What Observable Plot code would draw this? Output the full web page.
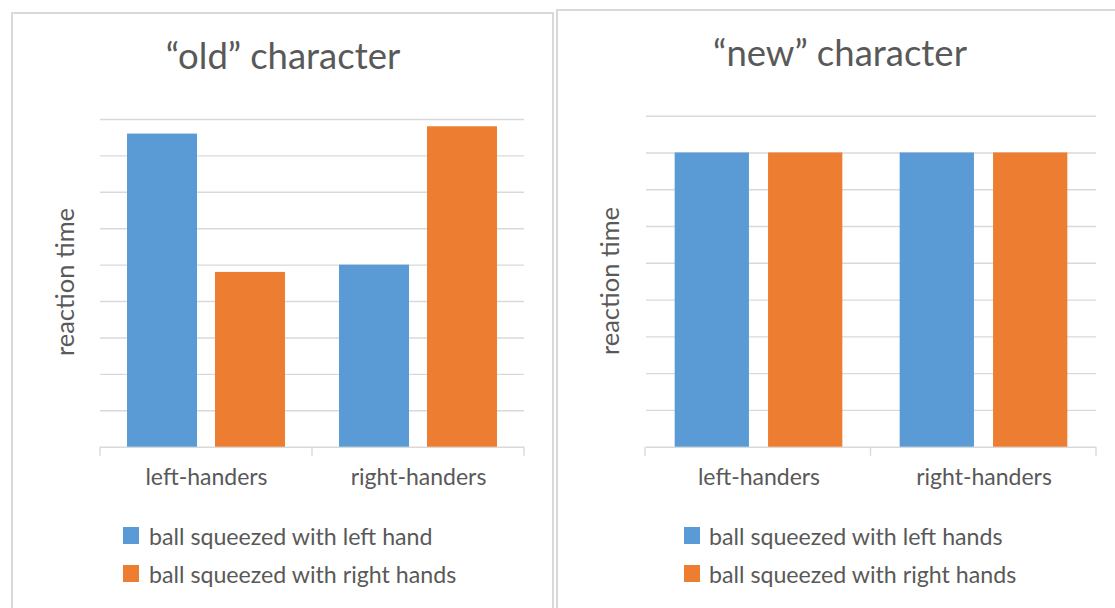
<!DOCTYPE html>
<html>
<head>
<meta charset="utf-8">
<script src="https://cdn.jsdelivr.net/npm/d3@7"></script>
<script src="https://cdn.jsdelivr.net/npm/@observablehq/plot@0.6"></script>
<style>
  html, body { margin: 0; padding: 0; background: #fff; }
  body { width: 1115px; height: 608px; overflow: hidden; position: relative;
         font-family: Lato, "Open Sans", sans-serif; color: #595959; }
  .panel { position: absolute; border: 2px solid #d9d9d9; box-sizing: border-box; background: #fff; }
  .abs { position: absolute; white-space: nowrap; line-height: 1; }
  .title { font-size: 36.5px; text-align: center; }
  .ylabel { font-size: 25.5px; transform: translate(-50%, -50%) rotate(-90deg); }
  .leg { font-size: 23.2px; }
  .sw { position: absolute; width: 16px; height: 17px; }
</style>
</head>
<body>
<div class="panel" style="left:11px; top:12px; width:543px; height:640px;"></div>
<div class="panel" style="left:556px; top:9px; width:580px; height:640px;"></div>
<script>
// ---- data ----
const categories = ["left-handers", "right-handers"];
const hands = ["left", "right"];
const handColors = ["#5B9BD5", "#ED7D31"];
const yTickValues = [0, 1, 2, 3, 4, 5, 6, 7, 8, 9];

const oldTitle = "\u201Cold\u201D character";
const oldLeftHand = [8.6, 5.0];
const oldRightHand = [4.8, 8.8];
const oldLegend = ["ball squeezed with left hand", "ball squeezed with right hands"];

const newTitle = "\u201Cnew\u201D character";
const newLeftHand = [8.0, 8.0];
const newRightHand = [8.0, 8.0];
const newLegend = ["ball squeezed with left hands", "ball squeezed with right hands"];

const yLabel = "reaction time";

// ---- helpers ----
function rows(leftVals, rightVals) {
  return categories.flatMap((c, i) => [
    {category: c, hand: "left", value: leftVals[i]},
    {category: c, hand: "right", value: rightVals[i]}
  ]);
}

function makeChart(data, opts) {
  const chart = Plot.plot({
    width: opts.width,
    height: opts.height,
    marginLeft: opts.marginLeft,
    marginRight: opts.marginRight,
    marginTop: opts.marginTop,
    marginBottom: opts.marginBottom,
    style: {background: "transparent", fontFamily: "Lato, 'Open Sans', sans-serif", fontSize: "23px", color: "#595959"},
    facet: {data, x: "category"},
    fx: {domain: categories, padding: 0, axis: "bottom", label: null, tickSize: 0, tickPadding: 21.5},
    x: {domain: hands, paddingInner: 0.2045, paddingOuter: 0.307, round: false, axis: null},
    y: {domain: [0, 9], axis: null},
    color: {domain: hands, range: handColors},
    marks: [
      Plot.ruleY(yTickValues, {stroke: "#d9d9d9", strokeWidth: 1.4}),
      Plot.barY(data, {x: "hand", y: "value", fill: "hand"})
    ]
  });
  // category boundary ticks on the x axis, from Plot's own scales
  const fx = chart.scale("fx");
  const y = chart.scale("y");
  const yb = y.apply ? y.apply(0) : y.range[0];
  const [r0, r1] = fx.range;
  const step = (r1 - r0) / fx.domain.length;
  const edges = d3.range(fx.domain.length + 1).map(i => r0 + i * step);
  const g = d3.select(chart).append("g").attr("stroke", "#d9d9d9").attr("stroke-width", 1.4);
  g.selectAll("line").data(edges).join("line")
    .attr("x1", d => d).attr("x2", d => d)
    .attr("y1", yb).attr("y2", yb + 9);
  return chart;
}

function place(el, left, top) {
  el.style.position = "absolute";
  el.style.left = left + "px";
  el.style.top = top + "px";
  document.body.appendChild(el);
}

function addText(cls, text, styles) {
  const d = document.createElement("div");
  d.className = "abs " + cls;
  d.textContent = text;
  Object.assign(d.style, styles);
  document.body.appendChild(d);
  return d;
}

function addLegend(labels, swLeft, textLeft, tops) {
  labels.forEach((lab, i) => {
    const s = document.createElement("div");
    s.className = "sw";
    s.style.left = swLeft + "px";
    s.style.top = tops[i] + "px";
    s.style.background = handColors[i];
    document.body.appendChild(s);
    addText("leg", lab, {left: textLeft + "px", top: (tops[i] - 2.5) + "px"});
  });
}

// ---- left panel ----
const leftChart = makeChart(rows(oldLeftHand, oldRightHand), {
  width: 538, height: 420, marginLeft: 87, marginRight: 27, marginTop: 29, marginBottom: 63.3
});
place(leftChart, 13, 90);
addText("title", oldTitle, {left: "13px", width: "540px", top: "37px"});
addText("ylabel", yLabel, {left: "65px", top: "282px"});
addLegend(oldLegend, 123, 149, [527, 565]);

// ---- right panel ----
const rightChart = makeChart(rows(newLeftHand, newRightHand), {
  width: 555, height: 420, marginLeft: 87, marginRight: 17, marginTop: 27.7, marginBottom: 61.3
});
place(rightChart, 558, 88);
addText("title", newTitle, {left: "558px", width: "564px", top: "34px"});
addText("ylabel", yLabel, {left: "610px", top: "281px"});
addLegend(newLegend, 684, 709, [527, 565]);
</script>
</body>
</html>
